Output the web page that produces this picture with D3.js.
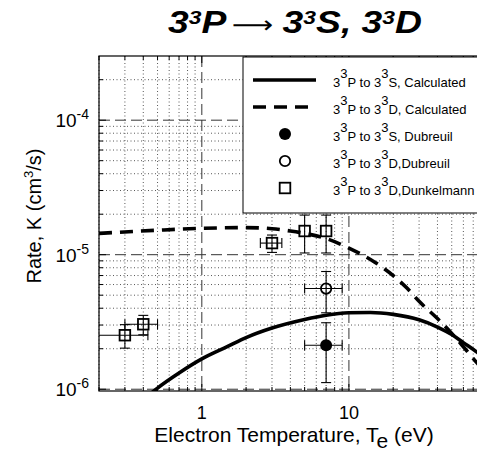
<!DOCTYPE html>
<html>
<head>
<meta charset="utf-8">
<script src="https://cdn.jsdelivr.net/npm/d3@7"></script>
<style>
  body { margin: 0; background: #fff; }
  svg { display: block; font-family: "Liberation Sans", Arial, sans-serif; }
</style>
</head>
<body>
<svg id="chart" width="477" height="462"></svg>
<script>
// calculated rates (cm^3/s) vs electron temperature (eV)
const calcST = [0.45, 0.5, 0.7, 1, 1.5, 2, 3, 5, 7, 10, 14, 20, 30, 40, 50, 60, 75, 100]
const calcSK = [0.93e-6, 1.02e-6, 1.32e-6, 1.68e-6, 2.08e-6, 2.42e-6, 2.85e-6, 3.3e-6, 3.55e-6, 3.7e-6, 3.72e-6, 3.6e-6, 3.28e-6, 2.9e-6, 2.55e-6, 2.22e-6, 1.87e-6, 1.45e-6]
const calcDT = [0.2, 0.5, 1, 2, 3, 4, 5, 7, 10, 15, 20, 25, 30, 40, 50, 60, 75, 100]
const calcDK = [1.44e-5, 1.52e-5, 1.57e-5, 1.59e-5, 1.56e-5, 1.5e-5, 1.44e-5, 1.32e-5, 1.12e-5, 8.8e-6, 7.0e-6, 5.6e-6, 4.5e-6, 3.35e-6, 2.6e-6, 2.07e-6, 1.55e-6, 1.15e-6]

// measured points: [Te, K, Te error, K error]
const dubreuilS = [[7, 2.12e-6, 2, 1.0e-6]]
const dubreuilD = [[7, 5.6e-6, 2, 1.9e-6]]
const dunkelmannD = [
    [0.3, 2.52e-6, 0.13, 0.5e-6],
    [0.4, 3.04e-6, 0.1, 0.5e-6],
    [3, 1.22e-5, 0.5, 0.18e-5],
    [5, 1.5e-5, 0, 0.47e-5],
    [7, 1.5e-5, 0, 0.47e-5]
]

const xMajor = [1, 10, 100]
const xMinor = [0.2, 0.3, 0.4, 0.5, 0.6, 0.7, 0.8, 0.9, 2, 3, 4, 5, 6, 7, 8, 9, 20, 30, 40, 50, 60, 70, 80, 90]
const yMajor = [1e-6, 1e-5, 1e-4]
const yMinor = [2e-6, 3e-6, 4e-6, 5e-6, 6e-6, 7e-6, 8e-6, 9e-6, 2e-5, 3e-5, 4e-5, 5e-5, 6e-5, 7e-5, 8e-5, 9e-5, 2e-4]
const xLabels = [[1, "1"], [10, "10"]]
const yLabels = [[1e-4, "-4"], [1e-5, "-5"], [1e-6, "-6"]]

const legendItems = [
    {kind: "solid", to: "S", src: ", Calculated"},
    {kind: "dashed", to: "D", src: ", Calculated"},
    {kind: "filled", to: "S", src: ", Dubreuil"},
    {kind: "open", to: "D", src: ",Dubreuil"},
    {kind: "square", to: "D", src: ",Dunkelmann"}
]

const margin = {top: 56, left: 99}
const plotW = 397
const plotH = 335
const DASH = "13,8"

const svg = d3.select("#chart")

const xScale = d3.scaleLog().domain([0.2, 100]).range([margin.left, margin.left + plotW])
const yScale = d3.scaleLog().domain([0.97e-6, 3e-4]).range([margin.top + plotH, margin.top])

svg.append("clipPath").attr("id", "plotClip")
    .append("rect")
    .attr("x", margin.left).attr("y", margin.top)
    .attr("width", plotW).attr("height", plotH)

const x0 = margin.left, x1 = margin.left + plotW
const y0 = margin.top, y1 = margin.top + plotH

// grid
const grid = svg.append("g")
grid.selectAll(".xminor").data(xMinor).join("line")
    .attr("x1", d => xScale(d)).attr("x2", d => xScale(d))
    .attr("y1", y0).attr("y2", y1)
    .attr("stroke", "#444").attr("stroke-width", 0.9).attr("stroke-dasharray", "1,2.5")
grid.selectAll(".yminor").data(yMinor).join("line")
    .attr("y1", d => yScale(d)).attr("y2", d => yScale(d))
    .attr("x1", x0).attr("x2", x1)
    .attr("stroke", "#444").attr("stroke-width", 0.9).attr("stroke-dasharray", "1,2.5")
grid.selectAll(".xmajor").data(xMajor).join("line")
    .attr("x1", d => xScale(d)).attr("x2", d => xScale(d))
    .attr("y1", y0).attr("y2", y1)
    .attr("stroke", "#333").attr("stroke-width", 1).attr("stroke-dasharray", "11,5")
grid.selectAll(".ymajor").data(yMajor).join("line")
    .attr("y1", d => yScale(d)).attr("y2", d => yScale(d))
    .attr("x1", x0).attr("x2", x1)
    .attr("stroke", "#333").attr("stroke-width", 1).attr("stroke-dasharray", "11,5")

// inward ticks
const ticks = svg.append("g").attr("stroke", "#000").attr("stroke-width", 1)
xMajor.concat(xMinor).forEach(d => {
    const len = xMajor.includes(d) ? 7 : 4
    ticks.append("line").attr("x1", xScale(d)).attr("x2", xScale(d)).attr("y1", y1).attr("y2", y1 - len)
    ticks.append("line").attr("x1", xScale(d)).attr("x2", xScale(d)).attr("y1", y0).attr("y2", y0 + len)
})
yMajor.concat(yMinor).forEach(d => {
    const len = yMajor.includes(d) ? 7 : 4
    ticks.append("line").attr("y1", yScale(d)).attr("y2", yScale(d)).attr("x1", x0).attr("x2", x0 + len)
})

// frame
svg.append("rect")
    .attr("x", x0).attr("y", y0).attr("width", plotW).attr("height", plotH)
    .attr("fill", "none").attr("stroke", "#000").attr("stroke-width", 1.2)

// curves
const plot = svg.append("g").attr("clip-path", "url(#plotClip)")
const line = d3.line().x(d => xScale(d[0])).y(d => yScale(d[1])).curve(d3.curveMonotoneX)

plot.append("path")
    .attr("d", line(d3.zip(calcST, calcSK)))
    .attr("fill", "none").attr("stroke", "#000").attr("stroke-width", 3.6)
plot.append("path")
    .attr("d", line(d3.zip(calcDT, calcDK)))
    .attr("fill", "none").attr("stroke", "#000").attr("stroke-width", 3.6)
    .attr("stroke-dasharray", DASH)

// error bars
const drawErrors = (data) => {
    const g = plot.append("g").attr("stroke", "#000").attr("stroke-width", 1.1)
    data.forEach(([t, k, dt, dk]) => {
        const cx = xScale(t), cy = yScale(k)
        if (dk > 0) {
            const ya = yScale(k + dk), yb = yScale(k - dk)
            g.append("line").attr("x1", cx).attr("x2", cx).attr("y1", ya).attr("y2", yb)
            g.append("line").attr("x1", cx - 5).attr("x2", cx + 5).attr("y1", ya).attr("y2", ya)
            g.append("line").attr("x1", cx - 5).attr("x2", cx + 5).attr("y1", yb).attr("y2", yb)
        }
        if (dt > 0) {
            const xa = xScale(t - dt), xb = xScale(t + dt)
            g.append("line").attr("x1", xa).attr("x2", xb).attr("y1", cy).attr("y2", cy)
            g.append("line").attr("x1", xa).attr("x2", xa).attr("y1", cy - 5).attr("y2", cy + 5)
            g.append("line").attr("x1", xb).attr("x2", xb).attr("y1", cy - 5).attr("y2", cy + 5)
        }
    })
}
drawErrors(dubreuilS)
drawErrors(dubreuilD)
drawErrors(dunkelmannD)

const drawMarker = (g, kind, cx, cy) => {
    if (kind === "filled") {
        g.append("circle").attr("cx", cx).attr("cy", cy).attr("r", 6).attr("fill", "#000")
    } else if (kind === "open") {
        g.append("circle").attr("cx", cx).attr("cy", cy).attr("r", 5.2)
            .attr("fill", "none").attr("stroke", "#000").attr("stroke-width", 1.8)
    } else if (kind === "square") {
        g.append("rect").attr("x", cx - 5.3).attr("y", cy - 5.3).attr("width", 10.6).attr("height", 10.6)
            .attr("fill", "none").attr("stroke", "#000").attr("stroke-width", 1.8)
    }
}
dubreuilS.forEach(d => drawMarker(plot, "filled", xScale(d[0]), yScale(d[1])))
dubreuilD.forEach(d => drawMarker(plot, "open", xScale(d[0]), yScale(d[1])))
dunkelmannD.forEach(d => drawMarker(plot, "square", xScale(d[0]), yScale(d[1])))

// tick labels
svg.selectAll(".xlab").data(xLabels).join("text")
    .attr("x", d => xScale(d[0])).attr("y", 419)
    .attr("text-anchor", "middle").style("font-size", "18px")
    .text(d => d[1])
yLabels.forEach(([v, exp]) => {
    const t = svg.append("text")
        .attr("x", 89).attr("y", yScale(v) + 7)
        .attr("text-anchor", "end").style("font-size", "19px")
    t.append("tspan").text("10")
    t.append("tspan").attr("dy", -8).style("font-size", "14px").text(exp)
})

// axis titles
const xt = svg.append("text")
    .attr("x", 294).attr("y", 442)
    .attr("text-anchor", "middle").style("font-size", "21px")
xt.append("tspan").text("Electron Temperature, T")
xt.append("tspan").attr("dy", 6).text("e")
xt.append("tspan").attr("dy", -6).text(" (eV)")

const yt = svg.append("text")
    .attr("transform", "translate(41,216) rotate(-90)")
    .attr("text-anchor", "middle").style("font-size", "20px")
yt.append("tspan").text("Rate, K (cm")
yt.append("tspan").attr("dy", -8).style("font-size", "13px").text("3")
yt.append("tspan").attr("dy", 8).text("/s)")

// title
const title = svg.append("text")
    .attr("x", 295).attr("y", 33)
    .attr("text-anchor", "middle")
    .attr("textLength", 254).attr("lengthAdjust", "spacingAndGlyphs")
    .style("font-size", "31px").style("font-weight", "bold").style("font-style", "italic")
title.append("tspan").text("3")
title.append("tspan").attr("dy", -9).style("font-size", "19px").text("3")
title.append("tspan").attr("dy", 9).text("P")
title.append("tspan")
    .style("font-weight", "normal").style("font-style", "normal")
    .style("font-family", "'DejaVu Sans'").style("font-size", "24px")
    .text("\u2009\u27F6 ")
title.append("tspan").text("3")
title.append("tspan").attr("dy", -9).style("font-size", "19px").text("3")
title.append("tspan").attr("dy", 9).text("S, 3")
title.append("tspan").attr("dy", -9).style("font-size", "19px").text("3")
title.append("tspan").attr("dy", 9).text("D")

// legend
const legend = svg.append("g").attr("transform", "translate(243,57)")
legend.append("rect")
    .attr("x", 0).attr("y", 0).attr("width", 260).attr("height", 156)
    .attr("fill", "#fff").attr("stroke", "#000").attr("stroke-width", 1)

legendItems.forEach((item, i) => {
    const cy = 23 + i * 27
    if (item.kind === "solid" || item.kind === "dashed") {
        legend.append("line")
            .attr("x1", 10).attr("x2", 73).attr("y1", cy).attr("y2", cy)
            .attr("stroke", "#000").attr("stroke-width", 3.6)
            .attr("stroke-dasharray", item.kind === "dashed" ? DASH : null)
    } else {
        drawMarker(legend, item.kind, 42, cy)
    }
    const t = legend.append("text")
        .attr("x", 90).attr("y", cy + 7)
        .style("font-size", "13px")
    t.append("tspan").text("3")
    t.append("tspan").attr("dy", -9).text("3")
    t.append("tspan").attr("dy", 9).text("P to 3")
    t.append("tspan").attr("dy", -9).text("3")
    t.append("tspan").attr("dy", 9).text(item.to + item.src)
})
</script>
</body>
</html>
